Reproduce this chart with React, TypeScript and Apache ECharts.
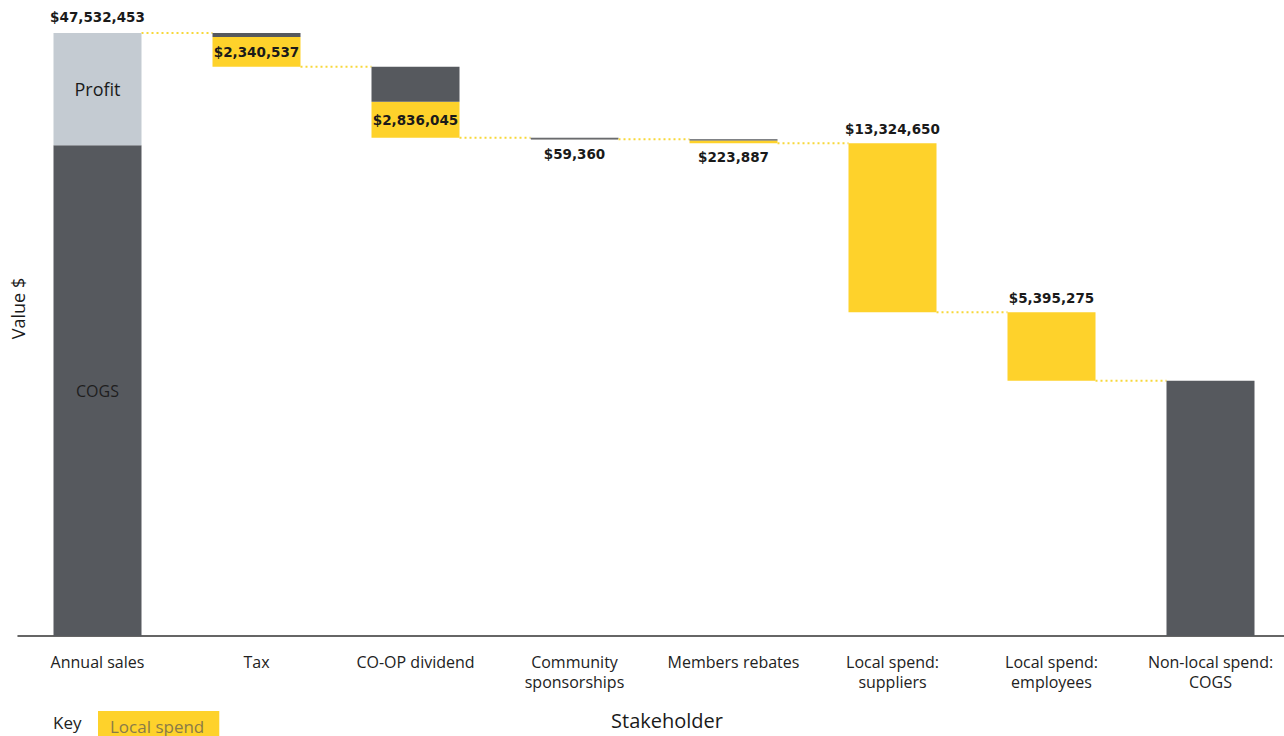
import React, { useEffect, useRef } from 'react';
import * as echarts from 'echarts';

const categories = [
  'Annual sales',
  'Tax',
  'CO-OP dividend',
  'Community\nsponsorships',
  'Members rebates',
  'Local spend:\nsuppliers',
  'Local spend:\nemployees',
  'Non-local spend:\nCOGS',
];

const SALES_TOTAL = 47532453;
const profitValues = [8852453, 0, 0, 0, 0, 0, 0, 0];
const cogsValues = [38680000, 0, 0, 0, 0, 0, 0, 20118699];
const localValues = [0, 2340537, 2836045, 59360, 223887, 13324650, 5395275, 0];
const otherValues = [0, 316000, 2760000, 67000, 91000, 0, 0, 0];

const DARK = '#56595e';
const LIGHT = '#c4cbd2';
const YELLOW = '#fed22b';
const BAR_WIDTH = 88;
const FONT = 'Open Sans';
const LABEL_FONT = 'DejaVu Sans';

const fmt = (v: number) => '$' + v.toLocaleString('en-US');

function buildOption() {
  // invisible base for the floating waterfall steps
  const baseValues = categories.map(() => 0);
  let level = SALES_TOTAL;
  for (let i = 1; i < categories.length - 1; i++) {
    level -= localValues[i] + otherValues[i];
    baseValues[i] = level;
  }
  const connectorLevels = [SALES_TOTAL, ...baseValues.slice(1, categories.length - 1)];

  const localPos = ['inside', 'inside', 'inside', 'bottom', 'bottom', 'top', 'top', 'inside'];

  const valueLabel = {
    fontFamily: LABEL_FONT,
    fontWeight: 'bold',
    fontSize: 13.5,
    color: '#1a1a1a',
  };

  return {
    animation: false,
    textStyle: { fontFamily: FONT },
    grid: { left: 18, top: 33, width: 1272, height: 603 },
    legend: {
      data: ['Local spend'],
      left: 93,
      top: 711,
      padding: 0,
      itemWidth: 0,
      itemHeight: 0,
      selectedMode: false,
      textStyle: {
        fontFamily: FONT,
        fontSize: 17,
        color: '#8a7b48',
        backgroundColor: YELLOW,
        padding: [2, 15, 11, 12],
      },
    },
    graphic: [
      {
        type: 'text',
        left: 53,
        top: 714,
        style: { text: 'Key', fontSize: 17, fill: '#222', fontFamily: FONT },
      },
    ],
    xAxis: {
      type: 'category',
      data: categories,
      name: 'Stakeholder',
      nameLocation: 'middle',
      nameGap: 74,
      nameTextStyle: { fontSize: 20, color: '#1a1a1a', fontFamily: FONT, padding: [0, 0, 0, 26] },
      axisLine: { show: true, lineStyle: { color: '#333', width: 1.5 } },
      axisTick: { show: false },
      axisLabel: {
        interval: 0,
        margin: 16,
        fontSize: 16,
        lineHeight: 20,
        color: '#222',
        fontFamily: FONT,
      },
    },
    yAxis: {
      type: 'value',
      min: 0,
      max: SALES_TOTAL,
      name: 'Value $',
      nameLocation: 'middle',
      nameRotate: 90,
      nameGap: -9,
      nameTextStyle: { fontSize: 18, color: '#1a1a1a', fontFamily: FONT, padding: [0, 0, 0, 52] },
      axisLine: { show: false },
      axisTick: { show: false },
      axisLabel: { show: false },
      splitLine: { show: false },
    },
    series: [
      {
        name: 'base',
        type: 'bar',
        stack: 'w',
        barWidth: BAR_WIDTH,
        data: baseValues,
        itemStyle: { color: 'transparent' },
        silent: true,
      },
      {
        name: 'COGS',
        type: 'bar',
        stack: 'w',
        barWidth: BAR_WIDTH,
        itemStyle: { color: DARK },
        data: cogsValues.map((v, i) =>
          i === 0
            ? { value: v, label: { show: true, position: 'inside', formatter: 'COGS', fontSize: 16, color: '#1e1e1e', fontFamily: FONT } }
            : v
        ),
      },
      {
        name: 'Local spend',
        type: 'bar',
        stack: 'w',
        barWidth: BAR_WIDTH,
        itemStyle: { color: YELLOW },
        data: localValues.map((v, i) => {
          if (!v) return v;
          const item: any = {
            value: v,
            label: { show: true, position: localPos[i], distance: 7, formatter: fmt(v), ...valueLabel },
          };
          if (i === 3) item.itemStyle = { color: '#e6d79c', borderColor: '#555', borderWidth: 1.2 };
          return item;
        }),
      },
      {
        name: 'Non-local',
        type: 'bar',
        stack: 'w',
        barWidth: BAR_WIDTH,
        itemStyle: { color: DARK },
        data: otherValues,
      },
      {
        name: 'Profit',
        type: 'bar',
        stack: 'w',
        barWidth: BAR_WIDTH,
        itemStyle: { color: LIGHT },
        data: profitValues.map((v, i) =>
          i === 0
            ? { value: v, label: { show: true, position: 'inside', formatter: 'Profit', fontSize: 18, color: '#1a1a1a', fontFamily: FONT } }
            : v
        ),
      },
      {
        name: 'Total',
        type: 'bar',
        stack: 'w',
        barWidth: BAR_WIDTH,
        itemStyle: { color: 'transparent' },
        data: categories.map((_, i) =>
          i === 0
            ? { value: 0, label: { show: true, position: 'top', distance: 9, formatter: fmt(SALES_TOTAL), ...valueLabel } }
            : 0
        ),
      },
      {
        name: 'connectors',
        type: 'custom',
        silent: true,
        z: 1,
        data: connectorLevels.map((v, i) => [i, v]),
        encode: { x: 0, y: 1 },
        renderItem: (params: any, api: any) => {
          const i = api.value(0);
          const v = api.value(1);
          const p1 = api.coord([i, v]);
          const p2 = api.coord([i + 1, v]);
          const half = BAR_WIDTH / 2;
          return {
            type: 'line',
            shape: { x1: p1[0] + half, y1: p1[1], x2: p2[0] - half, y2: p1[1] },
            style: { stroke: '#f7d83a', lineWidth: 2, lineDash: [2, 3] },
          };
        },
      },
    ],
  };
}

export default function App() {
  const ref = useRef<HTMLDivElement>(null);
  useEffect(() => {
    if (!ref.current) return;
    const chart = echarts.init(ref.current, undefined, { renderer: 'svg' });
    chart.setOption(buildOption() as any);
    return () => chart.dispose();
  }, []);
  return (
    <div
      style={{ position: 'absolute', left: 0, top: 0, width: 1284, height: 736, overflow: 'hidden', background: '#fff' }}
    >
      <div ref={ref} style={{ width: 1300, height: 736 }} />
    </div>
  );
}
